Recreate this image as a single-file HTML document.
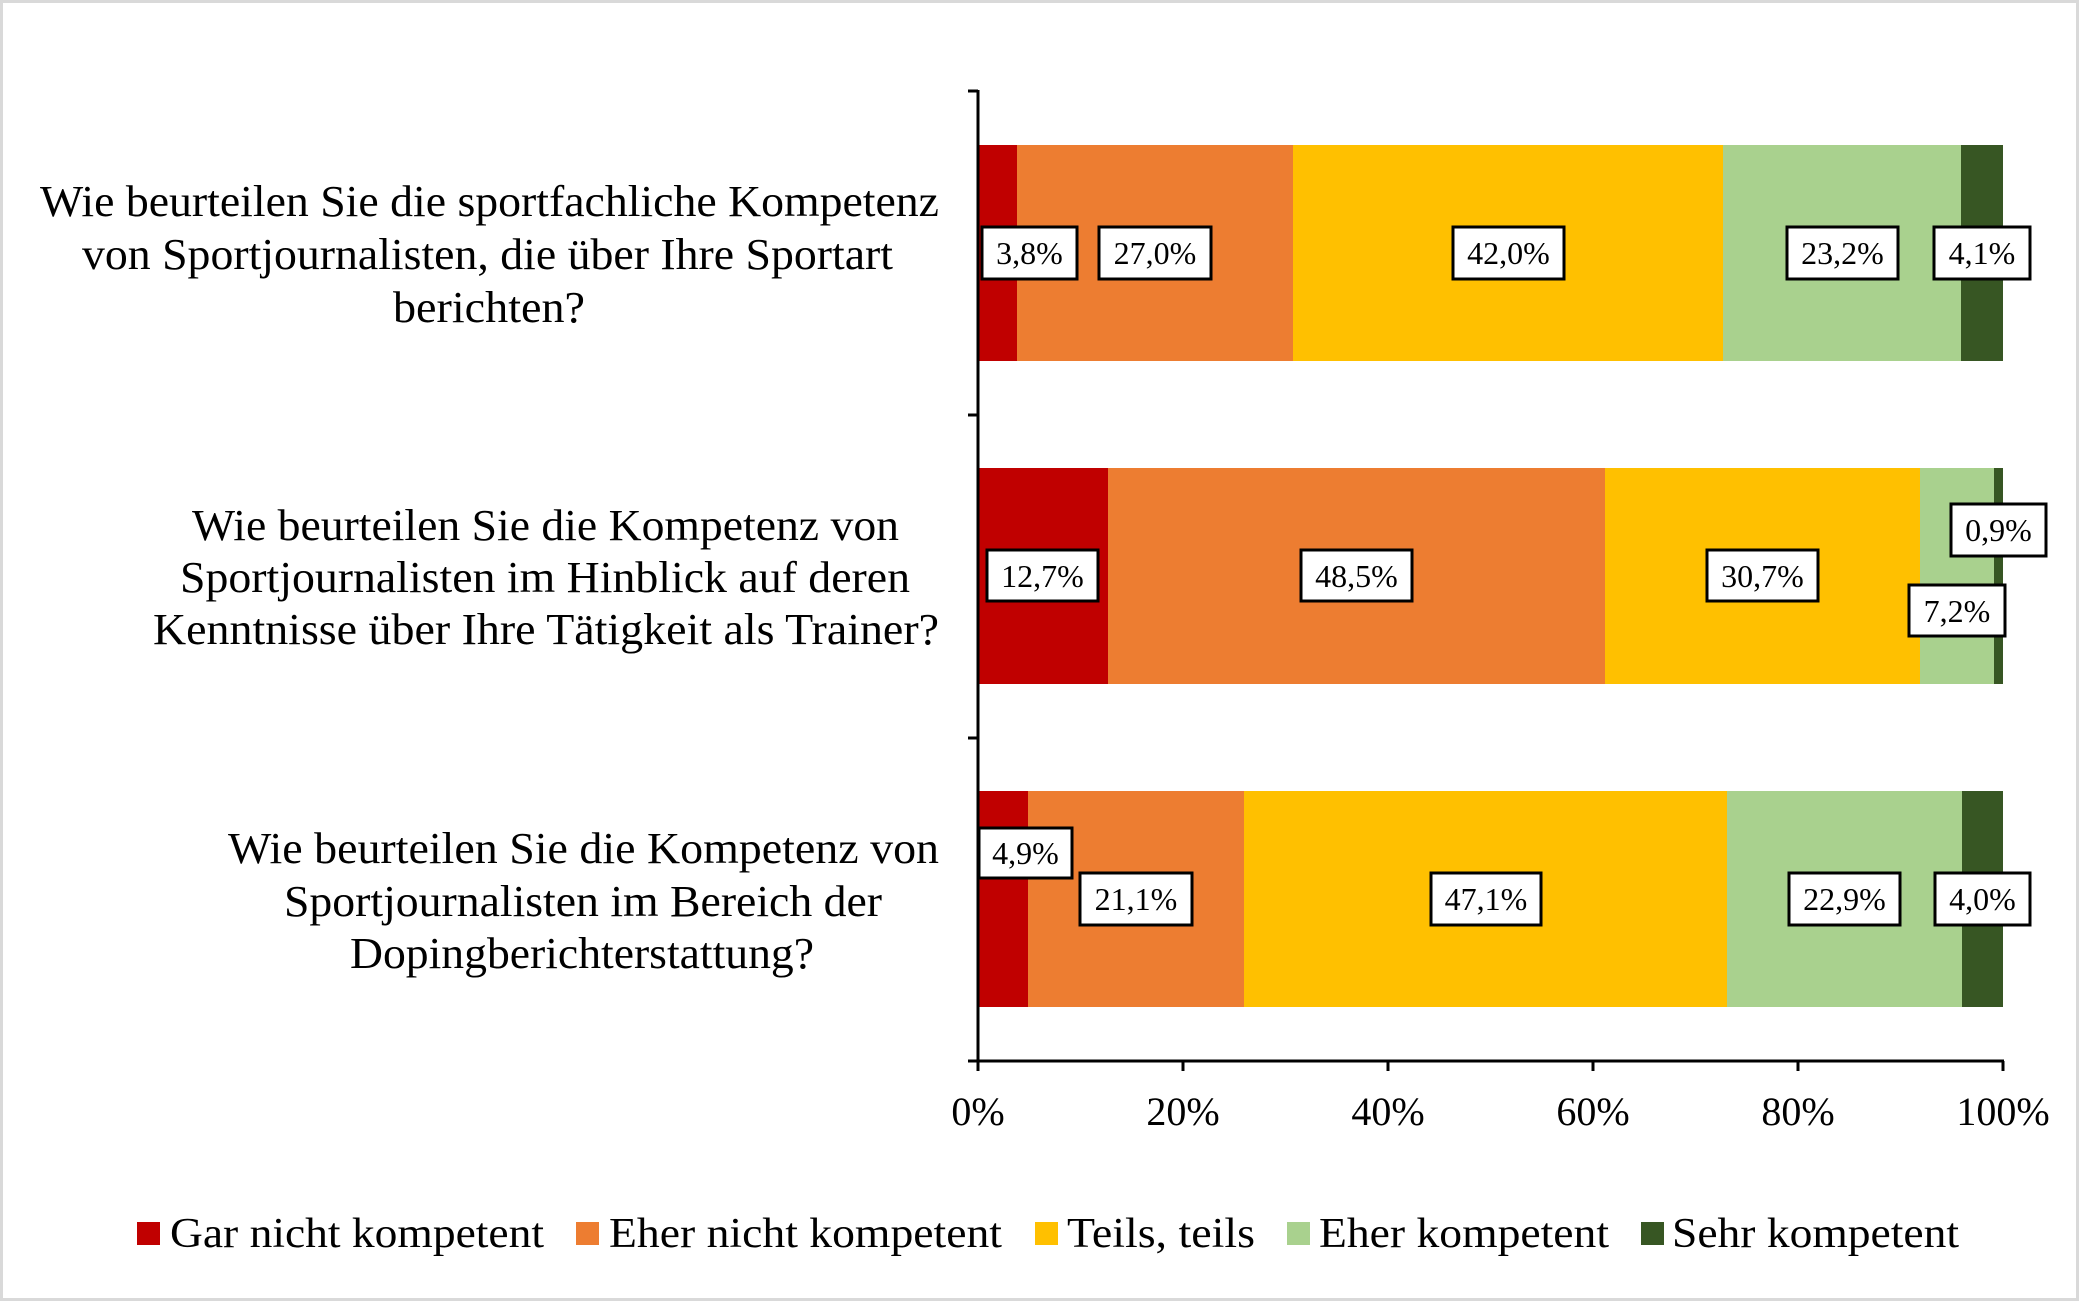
<!DOCTYPE html>
<html><head><meta charset="utf-8"><style>
html,body{margin:0;padding:0;background:#fff}
svg{display:block}
text{font-family:"Liberation Serif",serif;fill:#000}
</style></head><body>
<svg width="2080" height="1302" viewBox="0 0 2080 1302" xmlns="http://www.w3.org/2000/svg">
<rect x="1.5" y="1.5" width="2076" height="1298" fill="#fff" stroke="#d9d9d9" stroke-width="3"/>
<g>
<rect x="978" y="145" width="39" height="216" fill="#C00000"/>
<rect x="1017" y="145" width="276" height="216" fill="#ED7D31"/>
<rect x="1293" y="145" width="430" height="216" fill="#FFC000"/>
<rect x="1723" y="145" width="238" height="216" fill="#A9D18E"/>
<rect x="1961" y="145" width="42" height="216" fill="#375623"/>

<rect x="978" y="468" width="130" height="216" fill="#C00000"/>
<rect x="1108" y="468" width="497" height="216" fill="#ED7D31"/>
<rect x="1605" y="468" width="315" height="216" fill="#FFC000"/>
<rect x="1920" y="468" width="74" height="216" fill="#A9D18E"/>
<rect x="1994" y="468" width="9" height="216" fill="#375623"/>

<rect x="978" y="791" width="50" height="216" fill="#C00000"/>
<rect x="1028" y="791" width="216" height="216" fill="#ED7D31"/>
<rect x="1244" y="791" width="483" height="216" fill="#FFC000"/>
<rect x="1727" y="791" width="235" height="216" fill="#A9D18E"/>
<rect x="1962" y="791" width="41" height="216" fill="#375623"/>
</g>
<g stroke="#000" stroke-width="3" fill="none">
<line x1="978" y1="90" x2="978" y2="1062"/>
<line x1="968" y1="91" x2="978" y2="91"/>
<line x1="968" y1="415" x2="978" y2="415"/>
<line x1="968" y1="738" x2="978" y2="738"/>
<line x1="968" y1="1061" x2="2004" y2="1061"/>
<line x1="978" y1="1061" x2="978" y2="1071"/>
<line x1="1183" y1="1061" x2="1183" y2="1071"/>
<line x1="1388" y1="1061" x2="1388" y2="1071"/>
<line x1="1593" y1="1061" x2="1593" y2="1071"/>
<line x1="1798" y1="1061" x2="1798" y2="1071"/>
<line x1="2003" y1="1061" x2="2003" y2="1071"/>
</g>
<g font-size="40" text-anchor="middle">
<text x="978" y="1125">0%</text>
<text x="1183" y="1125">20%</text>
<text x="1388" y="1125">40%</text>
<text x="1593" y="1125">60%</text>
<text x="1798" y="1125">80%</text>
<text x="2003" y="1125">100%</text>
</g>
<g fill="#fff" stroke="#000" stroke-width="3">
<rect x="982" y="227" width="95" height="52"/>
<rect x="1099" y="227" width="112" height="52"/>
<rect x="1453" y="227" width="111" height="52"/>
<rect x="1787" y="227" width="111" height="52"/>
<rect x="1934" y="227" width="96" height="52"/>

<rect x="987" y="550" width="111" height="51"/>
<rect x="1301" y="550" width="111" height="51"/>
<rect x="1707" y="550" width="111" height="51"/>
<rect x="1951" y="504" width="95" height="52"/>
<rect x="1909" y="585" width="96" height="51"/>

<rect x="979" y="828" width="93" height="50"/>
<rect x="1080" y="873" width="112" height="52"/>
<rect x="1431" y="873" width="110" height="52"/>
<rect x="1789" y="873" width="111" height="52"/>
<rect x="1935" y="873" width="95" height="52"/>
</g>
<g font-size="32" text-anchor="middle">
<text x="1029.5" y="264">3,8%</text>
<text x="1155" y="264">27,0%</text>
<text x="1508.5" y="264">42,0%</text>
<text x="1842.5" y="264">23,2%</text>
<text x="1982" y="264">4,1%</text>

<text x="1042.5" y="587">12,7%</text>
<text x="1356.5" y="587">48,5%</text>
<text x="1762.5" y="587">30,7%</text>
<text x="1998.5" y="541">0,9%</text>
<text x="1957" y="622">7,2%</text>

<text x="1025.5" y="864">4,9%</text>
<text x="1136" y="910">21,1%</text>
<text x="1486" y="910">47,1%</text>
<text x="1844.5" y="910">22,9%</text>
<text x="1982.5" y="910">4,0%</text>
</g>
<g font-size="44">
<text x="40" y="216" textLength="899" lengthAdjust="spacingAndGlyphs">Wie beurteilen Sie die sportfachliche Kompetenz</text>
<text x="82" y="269" textLength="811" lengthAdjust="spacingAndGlyphs">von Sportjournalisten, die über Ihre Sportart</text>
<text x="393" y="322" textLength="192" lengthAdjust="spacingAndGlyphs">berichten?</text>

<text x="192" y="540" textLength="707" lengthAdjust="spacingAndGlyphs">Wie beurteilen Sie die Kompetenz von</text>
<text x="180" y="592" textLength="730" lengthAdjust="spacingAndGlyphs">Sportjournalisten im Hinblick auf deren</text>
<text x="153" y="644" textLength="786" lengthAdjust="spacingAndGlyphs">Kenntnisse über Ihre Tätigkeit als Trainer?</text>

<text x="228" y="863" textLength="711" lengthAdjust="spacingAndGlyphs">Wie beurteilen Sie die Kompetenz von</text>
<text x="284" y="916" textLength="598" lengthAdjust="spacingAndGlyphs">Sportjournalisten im Bereich der</text>
<text x="350" y="968" textLength="464" lengthAdjust="spacingAndGlyphs">Dopingberichterstattung?</text>
</g>
<rect x="137" y="1222" width="23" height="23" fill="#C00000"/>
<rect x="576" y="1222" width="23" height="23" fill="#ED7D31"/>
<rect x="1035" y="1222" width="23" height="23" fill="#FFC000"/>
<rect x="1287" y="1222" width="23" height="23" fill="#A9D18E"/>
<rect x="1641" y="1222" width="23" height="23" fill="#375623"/>
<g font-size="42">
<text x="170" y="1247" textLength="374" lengthAdjust="spacingAndGlyphs">Gar nicht kompetent</text>
<text x="609" y="1247" textLength="393" lengthAdjust="spacingAndGlyphs">Eher nicht kompetent</text>
<text x="1067" y="1247" textLength="188" lengthAdjust="spacingAndGlyphs">Teils, teils</text>
<text x="1319" y="1247" textLength="290" lengthAdjust="spacingAndGlyphs">Eher kompetent</text>
<text x="1672" y="1247" textLength="287" lengthAdjust="spacingAndGlyphs">Sehr kompetent</text>
</g>
</svg>
</body></html>
